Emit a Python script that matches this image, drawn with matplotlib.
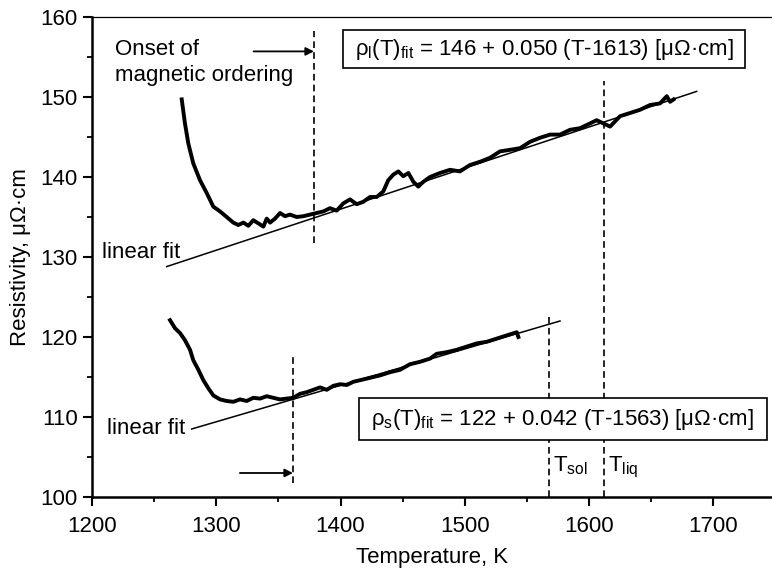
import matplotlib
matplotlib.use("Agg")
import matplotlib.pyplot as plt
from matplotlib.patches import Rectangle

plt.rcParams['font.family'] = ['Liberation Sans', 'DejaVu Sans']
plt.rcParams['mathtext.fontset'] = 'custom'
plt.rcParams['mathtext.rm'] = 'Liberation Sans'
plt.rcParams['mathtext.it'] = 'Liberation Sans:italic'
plt.rcParams['mathtext.default'] = 'rm'

# liquid-state curve (upper)
T_liq_data = [1272.2, 1274.8, 1277.5, 1281.5, 1286.9, 1292.3, 1297.6, 1303.0, 1308.4, 1313.7,
              1317.7, 1321.8, 1325.8, 1329.8, 1333.9, 1337.9, 1340.6, 1343.3, 1347.3, 1351.3,
              1355.3, 1359.3, 1364.7, 1370.1, 1375.4, 1380.8, 1386.2, 1391.5, 1396.9, 1402.2,
              1407.6, 1413.0, 1418.3, 1423.7, 1429.1, 1434.4, 1438.4, 1442.5, 1446.5, 1450.5,
              1454.6, 1458.6, 1462.6, 1466.6, 1472.0, 1480.0, 1488.1, 1496.1, 1504.2, 1512.2,
              1520.3, 1528.3, 1536.4, 1544.4, 1552.5, 1560.5, 1568.6, 1576.6, 1584.7, 1592.7,
              1600.8, 1606.1, 1611.5, 1616.9, 1624.9, 1633.0, 1641.0, 1649.1, 1657.1, 1662.5,
              1665.2, 1668.0]
rho_liq_data = [149.7, 146.7, 144.2, 141.7, 139.6, 138.0, 136.3, 135.7, 135.0, 134.3,
                134.0, 134.3, 133.9, 134.6, 134.2, 133.8, 134.8, 134.3, 134.8, 135.5,
                135.1, 135.3, 135.0, 135.1, 135.3, 135.5, 135.7, 136.1, 135.8, 136.7,
                137.2, 136.6, 136.9, 137.5, 137.5, 138.2, 139.6, 140.3, 140.7, 140.1,
                140.5, 139.4, 138.8, 139.4, 140.0, 140.5, 140.9, 140.7, 141.5, 141.9,
                142.4, 143.2, 143.4, 143.6, 144.4, 144.9, 145.3, 145.3, 145.9, 146.1,
                146.7, 147.1, 146.7, 146.3, 147.6, 148.0, 148.4, 149.0, 149.2, 150.1,
                149.4, 149.7]

# solid-state curve (lower)
T_sol_data = [1262.8, 1266.8, 1270.8, 1274.8, 1278.9, 1281.5, 1285.6, 1289.6, 1293.6, 1297.6,
              1303.0, 1308.4, 1313.7, 1319.1, 1324.5, 1329.8, 1335.2, 1340.6, 1345.9, 1351.3,
              1356.7, 1362.0, 1367.4, 1372.8, 1378.1, 1383.5, 1388.9, 1394.2, 1399.6, 1405.0,
              1410.3, 1415.7, 1421.1, 1426.4, 1431.8, 1439.8, 1447.9, 1455.9, 1464.0, 1472.0,
              1477.4, 1485.4, 1493.5, 1501.5, 1509.6, 1517.6, 1525.7, 1533.7, 1541.8, 1543.1]
rho_sol_data = [122.1, 121.1, 120.5, 119.6, 118.4, 117.1, 115.9, 114.6, 113.6, 112.7,
                112.2, 112.0, 111.9, 112.2, 112.0, 112.4, 112.3, 112.6, 112.4, 112.2,
                112.3, 112.4, 112.9, 113.1, 113.4, 113.7, 113.4, 113.9, 114.1, 114.0,
                114.4, 114.6, 114.8, 115.0, 115.2, 115.6, 115.9, 116.6, 116.9, 117.3,
                117.9, 118.1, 118.4, 118.8, 119.2, 119.4, 119.8, 120.2, 120.6, 120.0]

# linear fit lines (end points as drawn)
fit_liq_T = [1260.1, 1686.6]
fit_liq_rho = [128.8, 150.7]
fit_sol_T = [1280.2, 1576.6]
fit_sol_rho = [108.5, 122.0]

# marker temperatures
T_onset_liq = 1378.6
T_onset_sol = 1361.7
T_solidus = 1567.5
T_liquidus = 1612.0

fig = plt.figure(figsize=(7.72, 5.71), dpi=100)
ax = fig.add_axes([92 / 772, 74 / 571, 680 / 772, 480 / 571])

ax.plot(T_liq_data, rho_liq_data, color='black', lw=2.8, solid_joinstyle='round')
ax.plot(T_sol_data, rho_sol_data, color='black', lw=2.8, solid_joinstyle='round')
ax.plot(fit_liq_T, fit_liq_rho, color='black', lw=1.1)
ax.plot(fit_sol_T, fit_sol_rho, color='black', lw=1.1)

dash = (0, (4, 2.5))
ax.plot([T_onset_liq, T_onset_liq], [131.75, 158.2], color='black', lw=1.2, ls=dash)
ax.plot([T_onset_sol, T_onset_sol], [101.75, 118.0], color='black', lw=1.2, ls=dash)
ax.plot([T_solidus, T_solidus], [100, 122.6], color='black', lw=1.2, ls=dash)
ax.plot([T_liquidus, T_liquidus], [100, 152.0], color='black', lw=1.2, ls=dash)

arrow = dict(arrowstyle='-|>', color='black', lw=1.3, mutation_scale=12,
             shrinkA=0, shrinkB=0)
ax.annotate('', xy=(T_onset_liq, 155.7), xytext=(1330, 155.7), arrowprops=arrow)
ax.annotate('', xy=(T_onset_sol, 103.0), xytext=(1319, 103.0), arrowprops=arrow)

fs = 16
ax.text(1218.5, 155.3, 'Onset of', fontsize=fs, va='baseline')
ax.text(1218.5, 151.95, 'magnetic ordering', fontsize=fs, va='baseline')
ax.text(1207.7, 130.6, 'linear fit', fontsize=fs, va='center')
ax.text(1212.0, 108.6, 'linear fit', fontsize=fs, va='center')
ax.text(1571.0, 103.2, r'T$_{sol}$', fontsize=fs, va='baseline')
ax.text(1615.0, 103.2, r'T$_{liq}$', fontsize=fs, va='baseline')

ax.add_patch(Rectangle((1402, 153.6), 323.5, 4.8, facecolor='white',
                       edgecolor='black', lw=1.2, zorder=5))
ax.text(1563.8, 156.0, r'ρ$_l$(T)$_{fit}$ = 146 + 0.050 (T-1613) [μΩ·cm]',
        fontsize=fs, ha='center', va='center', zorder=6)
ax.add_patch(Rectangle((1414.9, 107.1), 328.3, 5.3, facecolor='white',
                       edgecolor='black', lw=1.2, zorder=5))
ax.text(1579.0, 109.75, r'ρ$_s$(T)$_{fit}$ = 122 + 0.042 (T-1563) [μΩ·cm]',
        fontsize=fs, ha='center', va='center', zorder=6)

ax.set_xlim(1200, 1747.2)
ax.set_ylim(100, 160)
ax.set_xticks([1200, 1300, 1400, 1500, 1600, 1700])
ax.set_xticks([1250, 1350, 1450, 1550, 1650], minor=True)
ax.set_yticks([100, 110, 120, 130, 140, 150, 160])
ax.set_yticks([105, 115, 125, 135, 145, 155], minor=True)
ax.tick_params(which='major', direction='out', length=6.7, width=1.5, labelsize=fs)
ax.tick_params(which='minor', direction='out', length=3.4, width=1.3)
ax.tick_params(axis='x', which='major', pad=7)
ax.tick_params(axis='y', which='major', pad=3.6)

ax.spines['right'].set_visible(False)
ax.spines['left'].set_linewidth(1.8)
ax.spines['bottom'].set_linewidth(1.8)
ax.spines['top'].set_linewidth(0.9)

ax.set_xlabel('Temperature, K', fontsize=fs, labelpad=7)
ax.set_ylabel('Resistivity, μΩ·cm', fontsize=fs, labelpad=7)

fig.savefig('out.png', dpi=100)
